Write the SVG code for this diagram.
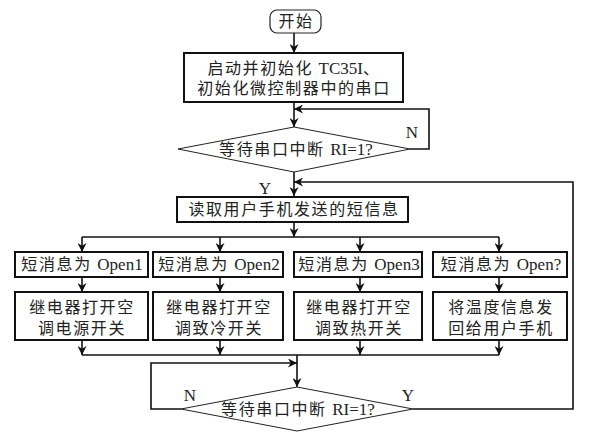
<svg xmlns="http://www.w3.org/2000/svg" width="589" height="438" viewBox="0 0 589 438">
<style>
text{font-family:"Liberation Serif","Noto Sans CJK SC",serif;font-size:16px;fill:#222;text-anchor:middle;letter-spacing:1.6px}
.lt{letter-spacing:0;font-size:17px}
.lbl{letter-spacing:0;font-size:17px}
.box{fill:#fff;stroke:#111;stroke-width:2}
.dia{fill:#fff;stroke:#222;stroke-width:1}
.c{fill:none;stroke:#111;stroke-width:1.6}
.a{marker-end:url(#ah)}
</style>
<defs>
<marker id="ah" viewBox="0 0 10 10" refX="10" refY="5" markerWidth="9" markerHeight="9" markerUnits="userSpaceOnUse" orient="auto">
<path d="M0,0 L10,5 L0,10 L3,5 z" fill="#111"/>
</marker>
</defs>
<rect width="589" height="438" fill="#fff"/>
<g id="connectors">
<path class="c a" d="M294,33 V53"/>
<path class="c a" d="M294,102 V127"/>
<path class="c a" d="M410,149 H429 V109 H294"/>
<path class="c a" d="M294,172 V196"/>
<path class="c a" d="M413,409 H573 V182 H294"/>
<path class="c a" d="M294,222 V237"/>
<path class="c" d="M82,237 H499"/>
<path class="c a" d="M82,237 V252"/>
<path class="c a" d="M220,237 V252"/>
<path class="c a" d="M360,237 V252"/>
<path class="c a" d="M499,237 V252"/>
<path class="c a" d="M82,277 V292"/>
<path class="c a" d="M220,277 V292"/>
<path class="c a" d="M360,277 V292"/>
<path class="c a" d="M499,277 V292"/>
<path class="c a" d="M82,340 V355"/>
<path class="c a" d="M220,340 V355"/>
<path class="c a" d="M360,340 V355"/>
<path class="c a" d="M499,340 V355"/>
<path class="c" d="M82,355 H499"/>
<path class="c a" d="M297,355 V387"/>
<path class="c a" d="M181,409 H151 V363 H297"/>
<text class="lbl" x="412" y="138">N</text>
<text class="lbl" x="265" y="194">Y</text>
<text class="lbl" x="190" y="401">N</text>
<text class="lbl" x="408" y="401">Y</text>
</g>
<g id="start">
<rect x="270" y="10" width="51" height="23" rx="7" fill="#fff" stroke="#222" stroke-width="1.2"/>
<text x="296" y="27">开始</text>
</g>
<g id="init">
<rect class="box" x="184" y="53" width="219" height="49"/>
<text x="294" y="74">启动并初始化 <tspan class="lt">TC35I</tspan>、</text>
<text x="294" y="94">初始化微控制器中的串口</text>
</g>
<g id="wait1">
<polygon class="dia" points="178,149 294,127 410,149 294,172"/>
<text x="296" y="155">等待串口中断 <tspan class="lt">RI=1?</tspan></text>
</g>
<g id="read">
<rect class="box" x="177" y="197" width="231" height="25"/>
<text x="294" y="215">读取用户手机发送的短信息</text>
</g>
<g id="open1">
<rect class="box" x="15" y="252" width="133" height="25"/>
<text x="82" y="270">短消息为 <tspan class="lt">Open1</tspan></text>
</g>
<g id="open2">
<rect class="box" x="153" y="252" width="130" height="25"/>
<text x="219" y="270">短消息为 <tspan class="lt">Open2</tspan></text>
</g>
<g id="open3">
<rect class="box" x="294" y="252" width="128" height="25"/>
<text x="359" y="270">短消息为 <tspan class="lt">Open3</tspan></text>
</g>
<g id="openq">
<rect class="box" x="433" y="252" width="134" height="25"/>
<text x="501" y="270">短消息为 <tspan class="lt">Open?</tspan></text>
</g>
<g id="act1">
<rect class="box" x="15" y="292" width="133" height="48"/>
<text x="82" y="313">继电器打开空</text>
<text x="82" y="334">调电源开关</text>
</g>
<g id="act2">
<rect class="box" x="153" y="292" width="130" height="48"/>
<text x="219" y="313">继电器打开空</text>
<text x="219" y="334">调致冷开关</text>
</g>
<g id="act3">
<rect class="box" x="294" y="292" width="128" height="48"/>
<text x="359" y="313">继电器打开空</text>
<text x="359" y="334">调致热开关</text>
</g>
<g id="act4">
<rect class="box" x="433" y="292" width="134" height="48"/>
<text x="501" y="313">将温度信息发</text>
<text x="501" y="334">回给用户手机</text>
</g>
<g id="wait2">
<polygon class="dia" points="181,409 297,387 413,409 297,431"/>
<text x="298" y="415">等待串口中断 <tspan class="lt">RI=1?</tspan></text>
</g>
</svg>
